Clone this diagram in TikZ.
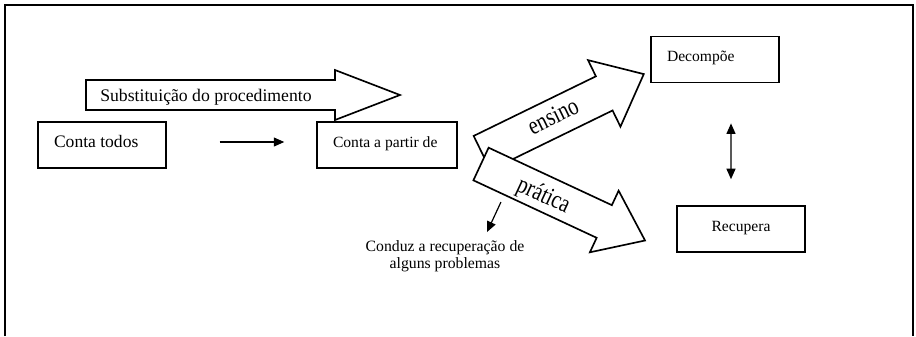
\documentclass[tikz,border=0pt]{standalone}
\usepackage{fontspec}
\setmainfont{Liberation Serif}
\newfontfamily\tallfont[FakeStretch=0.8]{Liberation Serif}
\usetikzlibrary{arrows.meta}

\begin{document}
\begin{tikzpicture}[x=0.6667pt,y=-0.6667pt,
    box/.style={rectangle,draw,line width=1.1pt,inner sep=0pt,minimum width=85.3pt,
      text height=17pt,text depth=13.7pt,font=\fontsize{10.4}{12}\selectfont},
    lbox/.style={box,minimum width=#1,execute at begin node={\hbox to #1\bgroup\hspace*{10.67pt}},
      execute at end node={\hfil\egroup}},
    lbox/.default=85.3pt,
    fat/.style={draw,fill=white,line width=1.1pt,line join=miter},
    fatlabel/.style={anchor=base,inner sep=0pt,font=\tallfont\fontsize{17}{19}\selectfont},
    thin/.style={line width=0.8pt,-{Triangle[length=7pt,width=6pt]}}]
	\useasboundingbox (0,0) rectangle (916,336);
	\draw [line width=1.3pt] (5,336) -- (5,5) -- (913,5) -- (913,336);

	\draw [fat] (86,80) -- (335,80) -- (335,70) -- (400,95) -- (335,120) -- (335,110) -- (86,110) -- cycle;
        \node at (100,101.5) [anchor=base west,inner sep=0pt,font=\fontsize{11.8}{14}\selectfont] (subst) {Substituição do procedimento};

        \node at (102,145) [lbox,font=\fontsize{11.7}{14}\selectfont] (todos) {Conta todos};
        \node at (387,145) [lbox=93.3pt] (partir) {Conta a partir de};
        \node at (715,59.5) [lbox] (decomp) {Decompõe};
        \node at (741,229) [box] (recup) {Recupera};

	\begin{scope}[shift={(482,153)},rotate=26]
	\draw [fat] (0,-19) -- (136,-19) -- (136,-37) -- (180,0) -- (136,37) -- (136,19) -- (0,19) -- cycle;
        \node at (80,6) [fatlabel,rotate=26] (ensino) {ensino};
	\end{scope}
	\begin{scope}[shift={(481,164)},rotate=-25]
	\draw [fat] (0,-18) -- (136,-18) -- (136,-34) -- (181,0) -- (136,34) -- (136,18) -- (0,18) -- cycle;
        \node at (70,9) [fatlabel,rotate=-25] (pratica) {prática};
	\end{scope}

        \node at (445,240) [anchor=north,align=center,inner sep=0pt,font=\fontsize{10.5}{11.3}\selectfont] (conduz) {Conduz a recuperação de\\alguns problemas};

     \draw [thin] ([shift={(35.3pt,2pt)}]todos.east) -- ([shift={(-21.3pt,2pt)}]partir.west);
     \draw [thin,{Triangle[length=7pt,width=6pt]}-{Triangle[length=7pt,width=6pt]}] ([shift={(10.67pt,-26.7pt)}]decomp.south) -- ([shift={(-6.67pt,17.3pt)}]recup.north);
     \draw [thin] ([shift={(37.3pt,25.3pt)}]conduz.north) -- ([shift={(28pt,5.3pt)}]conduz.north);
    \end{tikzpicture}
\end{document}
